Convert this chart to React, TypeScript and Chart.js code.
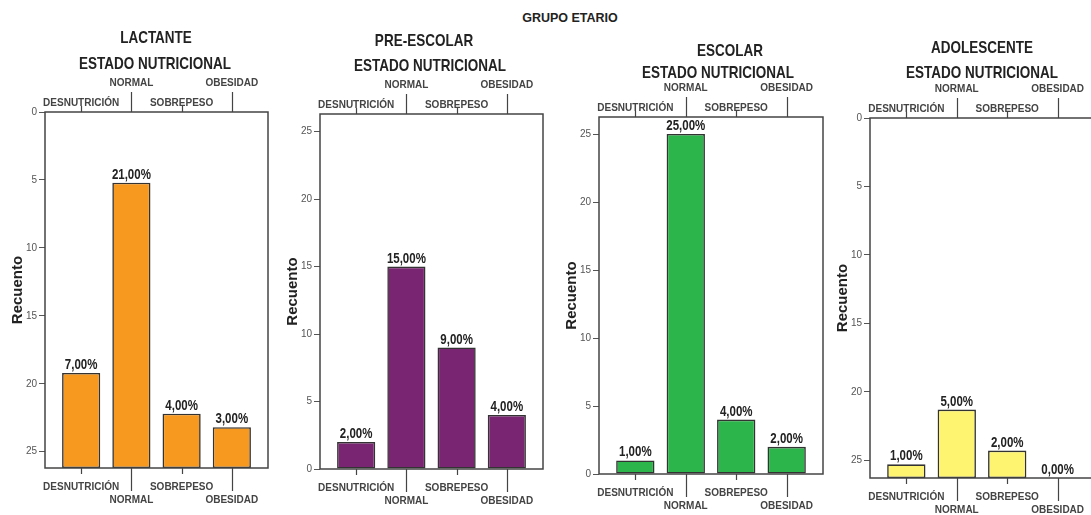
import React, { useEffect, useRef } from "react";
import { Chart, registerables } from "chart.js";

Chart.register(...registerables);

// ---------- data ----------
const mainTitle = "GRUPO ETARIO";
const subTitle = "ESTADO NUTRICIONAL";
const yAxisTitle = "Recuento";
const categories = ["DESNUTRICIÓN", "NORMAL", "SOBREPESO", "OBESIDAD"];
const yTickValues = [0, 5, 10, 15, 20, 25];
const groupTitles = ["LACTANTE", "PRE-ESCOLAR", "ESCOLAR", "ADOLESCENTE"];

const lactanteCounts = [7, 21, 4, 3];
const lactantePct = [7, 21, 4, 3];
const preescolarCounts = [2, 15, 9, 4];
const preescolarPct = [2, 15, 9, 4];
const escolarCounts = [1, 25, 4, 2];
const escolarPct = [1, 25, 4, 2];
const adolescenteCounts = [1, 5, 2, 0];
const adolescentePct = [1, 5, 2, 0];

// ---------- layout / style ----------
const FONT = '"Liberation Sans", Arial, sans-serif';
const Y_AXIS_W = 45;
const TOP_H = 40;
const BOT_H = 40;
const X_MIN = -0.72;
const X_MAX = 3.72;
const TEXT_STRETCH = 1.2;

type PanelCfg = {
  title: string;
  counts: number[];
  pct: number[];
  color: string;
  reversed: boolean;
  yMax: number;
  frame: { l: number; r: number; t: number; b: number };
  titleX: [number, number];
  titleY: [number, number];
};

const panels: PanelCfg[] = [
  {
    title: groupTitles[0], counts: lactanteCounts, pct: lactantePct, color: "#F7991F",
    reversed: true, yMax: 26.2, frame: { l: 45, r: 268, t: 112, b: 468 },
    titleX: [156, 155], titleY: [39, 65],
  },
  {
    title: groupTitles[1], counts: preescolarCounts, pct: preescolarPct, color: "#7A2572",
    reversed: false, yMax: 26.3, frame: { l: 320, r: 543, t: 114, b: 469 },
    titleX: [424, 430], titleY: [42, 67],
  },
  {
    title: groupTitles[2], counts: escolarCounts, pct: escolarPct, color: "#2BB54A",
    reversed: false, yMax: 26.25, frame: { l: 599, r: 823, t: 117, b: 474 },
    titleX: [730, 718], titleY: [52, 74],
  },
  {
    title: groupTitles[3], counts: adolescenteCounts, pct: adolescentePct, color: "#FFF470",
    reversed: true, yMax: 26.3, frame: { l: 870, r: 1094, t: 118, b: 478 },
    titleX: [982, 982], titleY: [49, 74],
  },
];

const fmtPct = (v: number) => v.toFixed(2).replace(".", ",") + "%";

function stretchedText(ctx: CanvasRenderingContext2D, text: string, x: number, y: number) {
  ctx.save();
  ctx.scale(1, TEXT_STRETCH);
  ctx.fillText(text, x, y / TEXT_STRETCH);
  ctx.restore();
}

function Panel({ p }: { p: PanelCfg }) {
  const ref = useRef<HTMLCanvasElement>(null);
  const canvasLeft = p.frame.l - Y_AXIS_W;
  const width = p.frame.r + 8 - canvasLeft;
  const height = 515;

  useEffect(() => {
    const data = p.counts.map((v, i) => ({
      x: i,
      y: p.reversed ? [p.yMax, p.yMax - v] : v,
    }));

    const decor = {
      id: "decor",
      afterDatasetsDraw(chart: any) {
        const ctx = chart.ctx;
        const meta = chart.getDatasetMeta(0);
        ctx.save();
        ctx.fillStyle = "#222";
        ctx.font = `bold 11.5px ${FONT}`;
        ctx.textAlign = "center";
        ctx.textBaseline = "alphabetic";
        meta.data.forEach((el: any, i: number) => {
          const top = Math.min(el.y, el.base);
          stretchedText(ctx, fmtPct(p.pct[i]), el.x, top - 4);
        });
        ctx.restore();
      },
      afterDraw(chart: any) {
        const ctx = chart.ctx;
        const a = chart.chartArea;
        ctx.save();
        // frame
        ctx.strokeStyle = "#444";
        ctx.lineWidth = 1.5;
        ctx.strokeRect(a.left, a.top, a.right - a.left, a.bottom - a.top);
        // category tick marks (staggered)
        const xs = chart.scales.x;
        ctx.lineWidth = 1.2;
        ctx.strokeStyle = "#444";
        categories.forEach((_, i) => {
          const px = Math.round(xs.getPixelForValue(i)) + 0.5;
          const longB = i % 2 === 1 ? 23 : 6;
          const longT = i % 2 === 1 ? 20 : 6;
          ctx.beginPath();
          ctx.moveTo(px, a.bottom);
          ctx.lineTo(px, a.bottom + longB);
          ctx.moveTo(px, a.top);
          ctx.lineTo(px, a.top - longT);
          ctx.stroke();
        });
        // titles
        ctx.fillStyle = "#222";
        ctx.textAlign = "center";
        ctx.textBaseline = "middle";
        ctx.font = `bold 13.5px ${FONT}`;
        stretchedText(ctx, p.title, p.titleX[0] - canvasLeft, p.titleY[0]);
        stretchedText(ctx, subTitle, p.titleX[1] - canvasLeft, p.titleY[1]);
        ctx.restore();
      },
    };

    const catTicks = () => categories.map((_, i) => ({ value: i }));

    const chart = new Chart(ref.current as HTMLCanvasElement, {
      type: "bar",
      data: {
        datasets: [
          {
            data: data as any,
            backgroundColor: p.color,
            borderColor: "#333",
            borderWidth: 1.6,
            borderSkipped: false,
            barPercentage: 0.76,
            categoryPercentage: 1,
            xAxisID: "x",
            yAxisID: "y",
          },
        ],
      },
      options: {
        responsive: false,
        animation: false,
        events: [],
        layout: {
          padding: {
            top: p.frame.t - TOP_H,
            bottom: height - p.frame.b - BOT_H,
            left: 0,
            right: width - (p.frame.r - canvasLeft),
          },
        },
        plugins: {
          legend: { display: false },
          tooltip: { enabled: false },
        },
        scales: {
          x: {
            type: "linear",
            position: "bottom",
            offset: false,
            min: X_MIN,
            max: X_MAX,
            grid: { display: false, drawTicks: false, offset: false },
            border: { display: false },
            afterBuildTicks: (s: any) => { s.ticks = catTicks(); },
            afterFit: (s: any) => { s.height = BOT_H; },
            ticks: {
              autoSkip: false,
              maxRotation: 0,
              minRotation: 0,
              padding: 13,
              color: "#444",
              font: { family: FONT, size: 10, weight: "bold", lineHeight: 1.3 },
              callback: (v: any) => {
                const i = Math.round(Number(v));
                return i % 2 === 1 ? ["", categories[i]] : categories[i];
              },
            },
          },
          x2: {
            type: "linear",
            position: "top",
            offset: false,
            min: X_MIN,
            max: X_MAX,
            grid: { display: false, drawTicks: false, offset: false },
            border: { display: false },
            afterBuildTicks: (s: any) => { s.ticks = catTicks(); },
            afterFit: (s: any) => { s.height = TOP_H; },
            ticks: {
              autoSkip: false,
              maxRotation: 0,
              minRotation: 0,
              padding: -1,
              color: "#444",
              font: { family: FONT, size: 10, weight: "bold", lineHeight: 2 },
              callback: (v: any) => {
                const i = Math.round(Number(v));
                return i % 2 === 1 ? [categories[i], ""] : categories[i];
              },
            },
          },
          y: {
            type: "linear",
            position: "left",
            min: 0,
            max: p.yMax,
            reverse: p.reversed,
            afterBuildTicks: (s: any) => { s.ticks = yTickValues.map((v) => ({ value: v })); },
            afterFit: (s: any) => { s.width = Y_AXIS_W; },
            grid: {
              display: true,
              drawOnChartArea: false,
              drawTicks: true,
              tickLength: 6,
              tickColor: "#555",
              tickWidth: 1,
            },
            border: { display: false },
            ticks: { padding: 2, color: "#555", font: { family: FONT, size: 10 } },
            title: {
              display: true,
              text: yAxisTitle,
              color: "#222",
              font: { family: FONT, size: 15, weight: "bold" },
              padding: { top: 9, bottom: 0 },
            },
          },
        },
      } as any,
      plugins: [decor],
    });
    return () => chart.destroy();
  }, []);

  return (
    <canvas
      ref={ref}
      width={width}
      height={height}
      style={{ position: "absolute", left: canvasLeft, top: 0, width, height }}
    />
  );
}

export default function App() {
  return (
    <div
      style={{
        position: "fixed",
        left: 0,
        top: 0,
        width: 1091,
        height: 515,
        overflow: "hidden",
        background: "#fff",
      }}
    >
      <div
        style={{
          position: "absolute",
          left: 470,
          top: 11,
          width: 200,
          textAlign: "center",
          font: `bold 12.5px ${FONT}`,
          lineHeight: "14px",
          color: "#222",
        }}
      >
        {mainTitle}
      </div>
      {panels.map((p) => (
        <Panel key={p.title} p={p} />
      ))}
    </div>
  );
}
